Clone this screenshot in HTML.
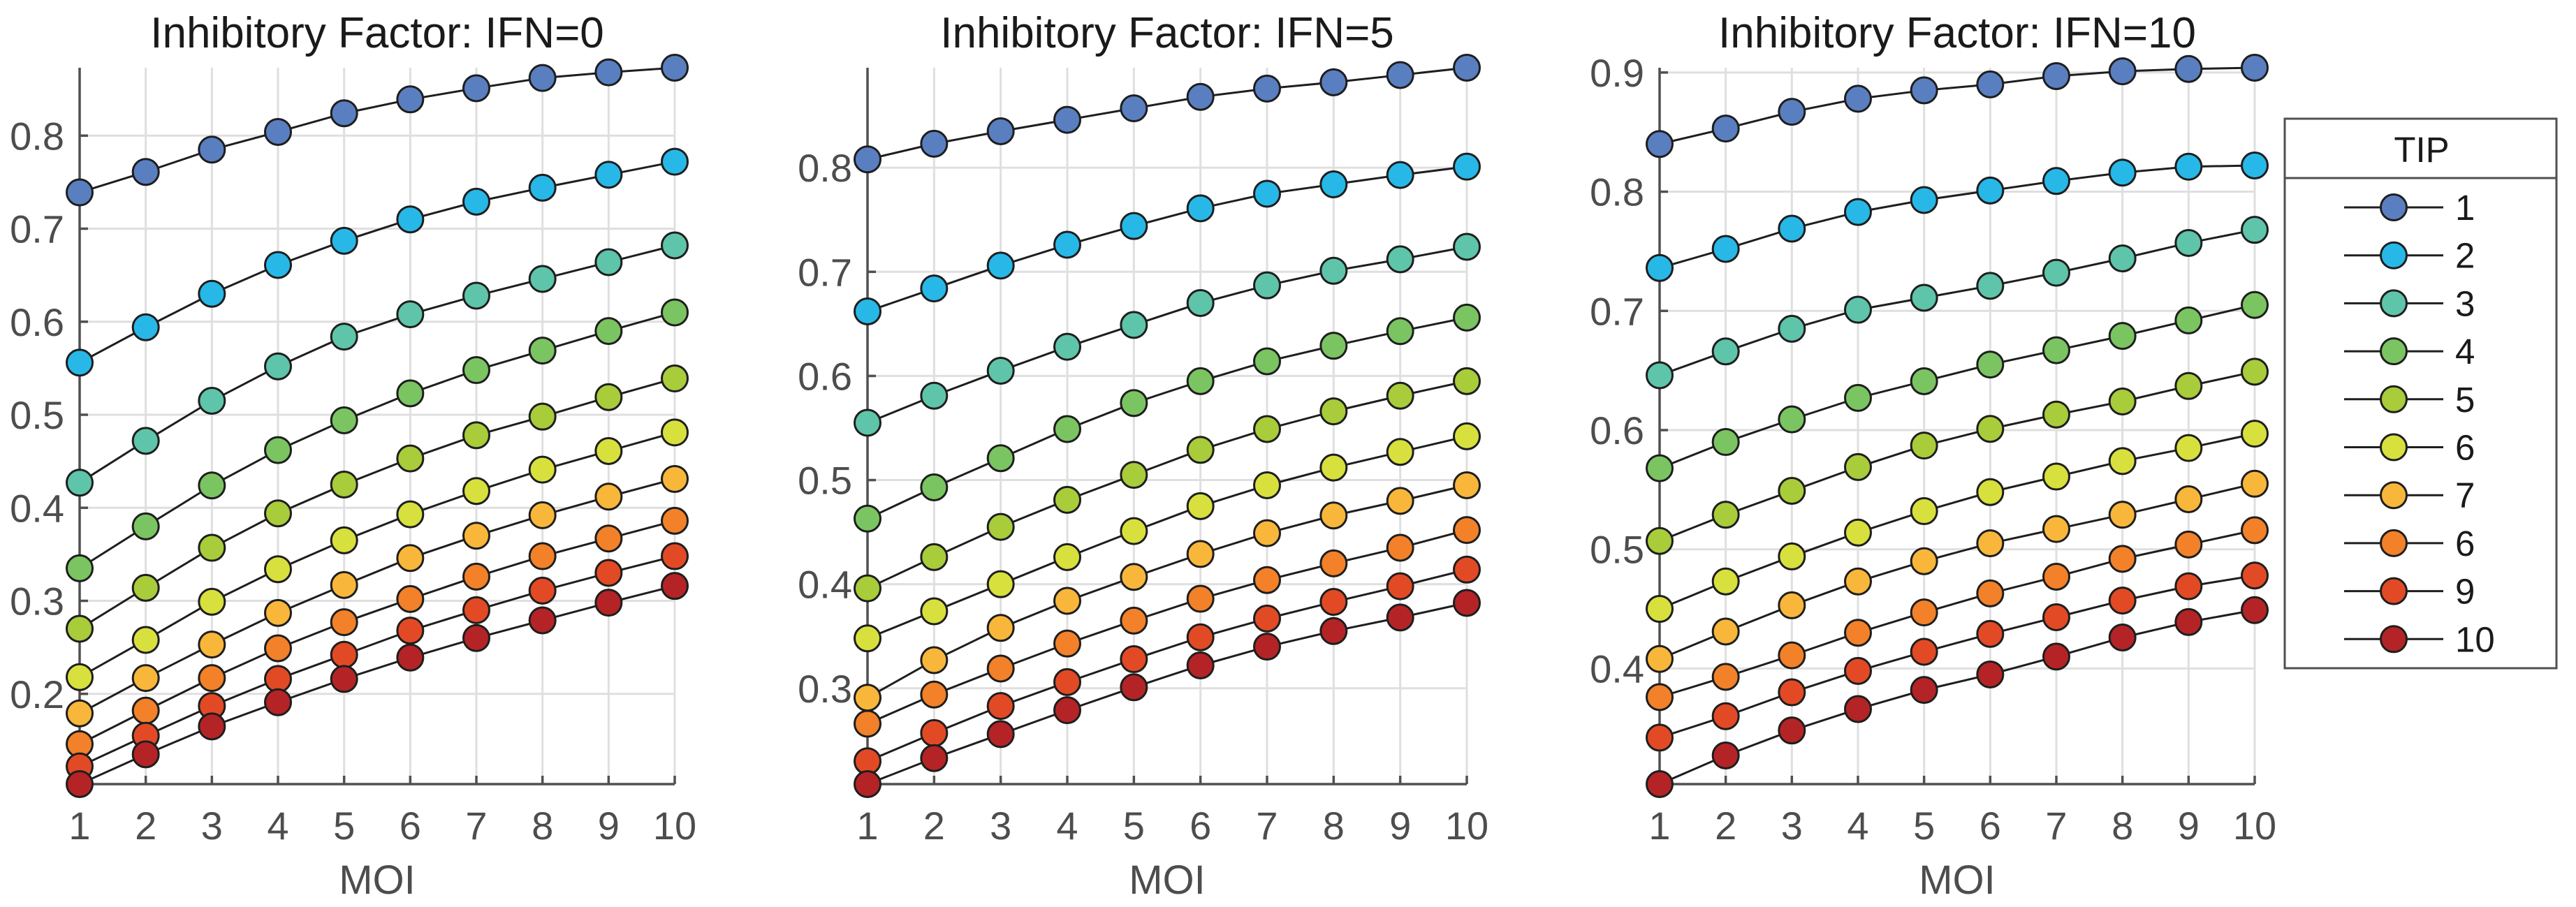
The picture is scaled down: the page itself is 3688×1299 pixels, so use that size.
<!DOCTYPE html>
<html><head><meta charset="utf-8"><style>
html,body{margin:0;padding:0;background:#fff;}
svg{display:block;font-family:"Liberation Sans",Arial,sans-serif;}
</style></head><body>
<svg id="chart" width="3688" height="1299" viewBox="0 0 3688 1299"></svg>
<script>
const moi = [1,2,3,4,5,6,7,8,9,10];
const tipLabels = ["1","2","3","4","5","6","7","6","9","10"];
const titles = ["Inhibitory Factor: IFN=0","Inhibitory Factor: IFN=5","Inhibitory Factor: IFN=10"];
const yTicks0 = [0.2,0.3,0.4,0.5,0.6,0.7,0.8];
const yTicks1 = [0.3,0.4,0.5,0.6,0.7,0.8];
const yTicks2 = [0.4,0.5,0.6,0.7,0.8,0.9];
const ifn0 = [
[0.739,0.761,0.785,0.804,0.824,0.839,0.851,0.862,0.868,0.873],
[0.556,0.594,0.630,0.661,0.687,0.710,0.729,0.744,0.758,0.772],
[0.427,0.472,0.515,0.552,0.584,0.608,0.628,0.646,0.664,0.682],
[0.335,0.380,0.424,0.462,0.494,0.523,0.548,0.569,0.590,0.610],
[0.270,0.314,0.357,0.394,0.425,0.453,0.478,0.498,0.519,0.539],
[0.218,0.258,0.299,0.334,0.365,0.393,0.418,0.441,0.461,0.481],
[0.179,0.217,0.253,0.287,0.317,0.346,0.370,0.392,0.412,0.431],
[0.146,0.182,0.217,0.249,0.277,0.302,0.326,0.348,0.367,0.386],
[0.122,0.155,0.187,0.216,0.242,0.268,0.290,0.311,0.330,0.348],
[0.103,0.135,0.165,0.191,0.216,0.239,0.260,0.279,0.298,0.316]];
const ifn5 = [
[0.808,0.823,0.835,0.846,0.857,0.868,0.876,0.882,0.889,0.896],
[0.662,0.684,0.706,0.726,0.744,0.761,0.775,0.784,0.793,0.801],
[0.555,0.581,0.605,0.628,0.649,0.670,0.687,0.701,0.712,0.724],
[0.463,0.493,0.521,0.549,0.574,0.595,0.614,0.629,0.643,0.656],
[0.396,0.426,0.455,0.481,0.505,0.529,0.549,0.566,0.581,0.595],
[0.348,0.374,0.400,0.426,0.451,0.475,0.495,0.512,0.527,0.542],
[0.291,0.327,0.358,0.384,0.407,0.429,0.449,0.466,0.480,0.495],
[0.266,0.294,0.319,0.343,0.365,0.386,0.404,0.420,0.435,0.452],
[0.230,0.257,0.283,0.306,0.328,0.349,0.367,0.383,0.398,0.414],
[0.208,0.233,0.256,0.279,0.301,0.322,0.340,0.355,0.368,0.382]];
const ifn10 = [
[0.840,0.853,0.867,0.878,0.885,0.890,0.897,0.901,0.903,0.904],
[0.736,0.752,0.769,0.783,0.793,0.801,0.809,0.816,0.821,0.822],
[0.646,0.666,0.685,0.701,0.711,0.721,0.732,0.744,0.757,0.768],
[0.568,0.590,0.609,0.627,0.641,0.655,0.667,0.679,0.692,0.705],
[0.507,0.529,0.549,0.569,0.587,0.601,0.613,0.624,0.637,0.649],
[0.450,0.473,0.494,0.514,0.532,0.548,0.561,0.574,0.585,0.597],
[0.408,0.431,0.453,0.473,0.490,0.505,0.517,0.529,0.542,0.555],
[0.376,0.393,0.411,0.430,0.447,0.463,0.477,0.492,0.504,0.516],
[0.342,0.360,0.380,0.398,0.414,0.429,0.443,0.457,0.469,0.478],
[0.303,0.327,0.348,0.366,0.382,0.395,0.410,0.426,0.439,0.449]];
const colors = ["#5a7fc0","#27b8e8","#5ec4aa","#7bc462","#a8cc3a","#d8e03e","#f8b73a","#f28129","#e24a25","#b42426"];

const NS="http://www.w3.org/2000/svg";
const svg=document.getElementById('chart');
function mk(tag,attrs,parent){const e=document.createElementNS(NS,tag);for(const k in attrs)e.setAttribute(k,attrs[k]);(parent||svg).appendChild(e);return e;}

const panels=[
 {x0:114,x1:966,data:ifn0,ticks:yTicks0},
 {x0:1242,x1:2100,data:ifn5,ticks:yTicks1},
 {x0:2376,x1:3228,data:ifn10,ticks:yTicks2}];
const axTop=97, axBot=1123;

panels.forEach((p,pi)=>{
  const g=mk('g',{});
  
  
  let mn=Infinity,mx=-Infinity;
  p.data.forEach(s=>s.forEach(v=>{mn=Math.min(mn,v);mx=Math.max(mx,v);}));
  const xs=v=>p.x0+(v-1)/(moi.length-1)*(p.x1-p.x0);
  const ys=v=>axBot-(v-mn)/(mx-mn)*(axBot-axTop);
  moi.forEach(m=>{
    const l=mk('line',{x1:xs(m),x2:xs(m),y1:axTop,y2:axBot,stroke:'#dfdfdf','stroke-width':3},g);
    
    
  });
  p.ticks.forEach(t=>{
    const l=mk('line',{x1:p.x0,x2:p.x1,y1:ys(t),y2:ys(t),stroke:'#dfdfdf','stroke-width':3},g);
    
    
  });
  const ax=mk('path',{d:`M${p.x0},${axTop}V${axBot}H${p.x1}`,fill:'none',stroke:'#505050','stroke-width':3.5},g);
  
  
  moi.forEach(m=>{
    const tk=mk('line',{x1:xs(m),x2:xs(m),y1:axBot,y2:axBot-12,stroke:'#505050','stroke-width':3.5},g);
    
    
    const t=mk('text',{x:xs(m),y:1202,'text-anchor':'middle','font-size':56,fill:'#4d4d4d'},g);
    t.textContent=m;
    
    
  });
  p.ticks.forEach(v=>{
    const tk=mk('line',{x1:p.x0,x2:p.x0+12,y1:ys(v),y2:ys(v),stroke:'#505050','stroke-width':3.5},g);
    
    
    const t=mk('text',{x:p.x0-22,y:ys(v)+20,'text-anchor':'end','font-size':56,fill:'#4d4d4d'},g);
    t.textContent=v.toFixed(1);
    
    
  });
  const xl=mk('text',{x:(p.x0+p.x1)/2,y:1280,'text-anchor':'middle','font-size':58,fill:'#4d4d4d'},g);
  xl.textContent='MOI';
  
  
  const ti=mk('text',{x:(p.x0+p.x1)/2,y:68,'text-anchor':'middle','font-size':62,fill:'#1a1a1a'},g);
  ti.textContent=titles[pi];
  
  
  p.data.forEach((s,si)=>{
    const pts=s.map((v,i)=>xs(moi[i])+','+ys(v)).join(' ');
    const pl=mk('polyline',{points:pts,fill:'none',stroke:'#1e1e1e','stroke-width':3},g);
    
    
  });
  p.data.forEach((s,si)=>{
    s.forEach((v,i)=>{
      const c=mk('circle',{cx:xs(moi[i]),cy:ys(v),r:18.5,fill:colors[si],stroke:'#1e1e1e','stroke-width':3},g);
      
      
    });
  });
});

const lg=mk('g',{});


mk('rect',{x:3271,y:170,width:389,height:787,fill:'#fff',stroke:'#505050','stroke-width':3},lg);
mk('line',{x1:3271,x2:3660,y1:255,y2:255,stroke:'#505050','stroke-width':3},lg);
const lt=mk('text',{x:3467,y:232,'text-anchor':'middle','font-size':51,fill:'#1a1a1a'},lg);
lt.textContent='TIP';


tipLabels.forEach((lab,i)=>{
  const y=297+i*68.7;
  const e=mk('g',{},lg);
  
  
  mk('line',{x1:3356,x2:3498,y1:y,y2:y,stroke:'#1e1e1e','stroke-width':3},e);
  mk('circle',{cx:3427,cy:y,r:18.5,fill:colors[i],stroke:'#1e1e1e','stroke-width':3},e);
  const t=mk('text',{x:3515,y:y+18,'font-size':51,fill:'#1a1a1a'},e);
  t.textContent=lab;
});
</script>
</body></html>
